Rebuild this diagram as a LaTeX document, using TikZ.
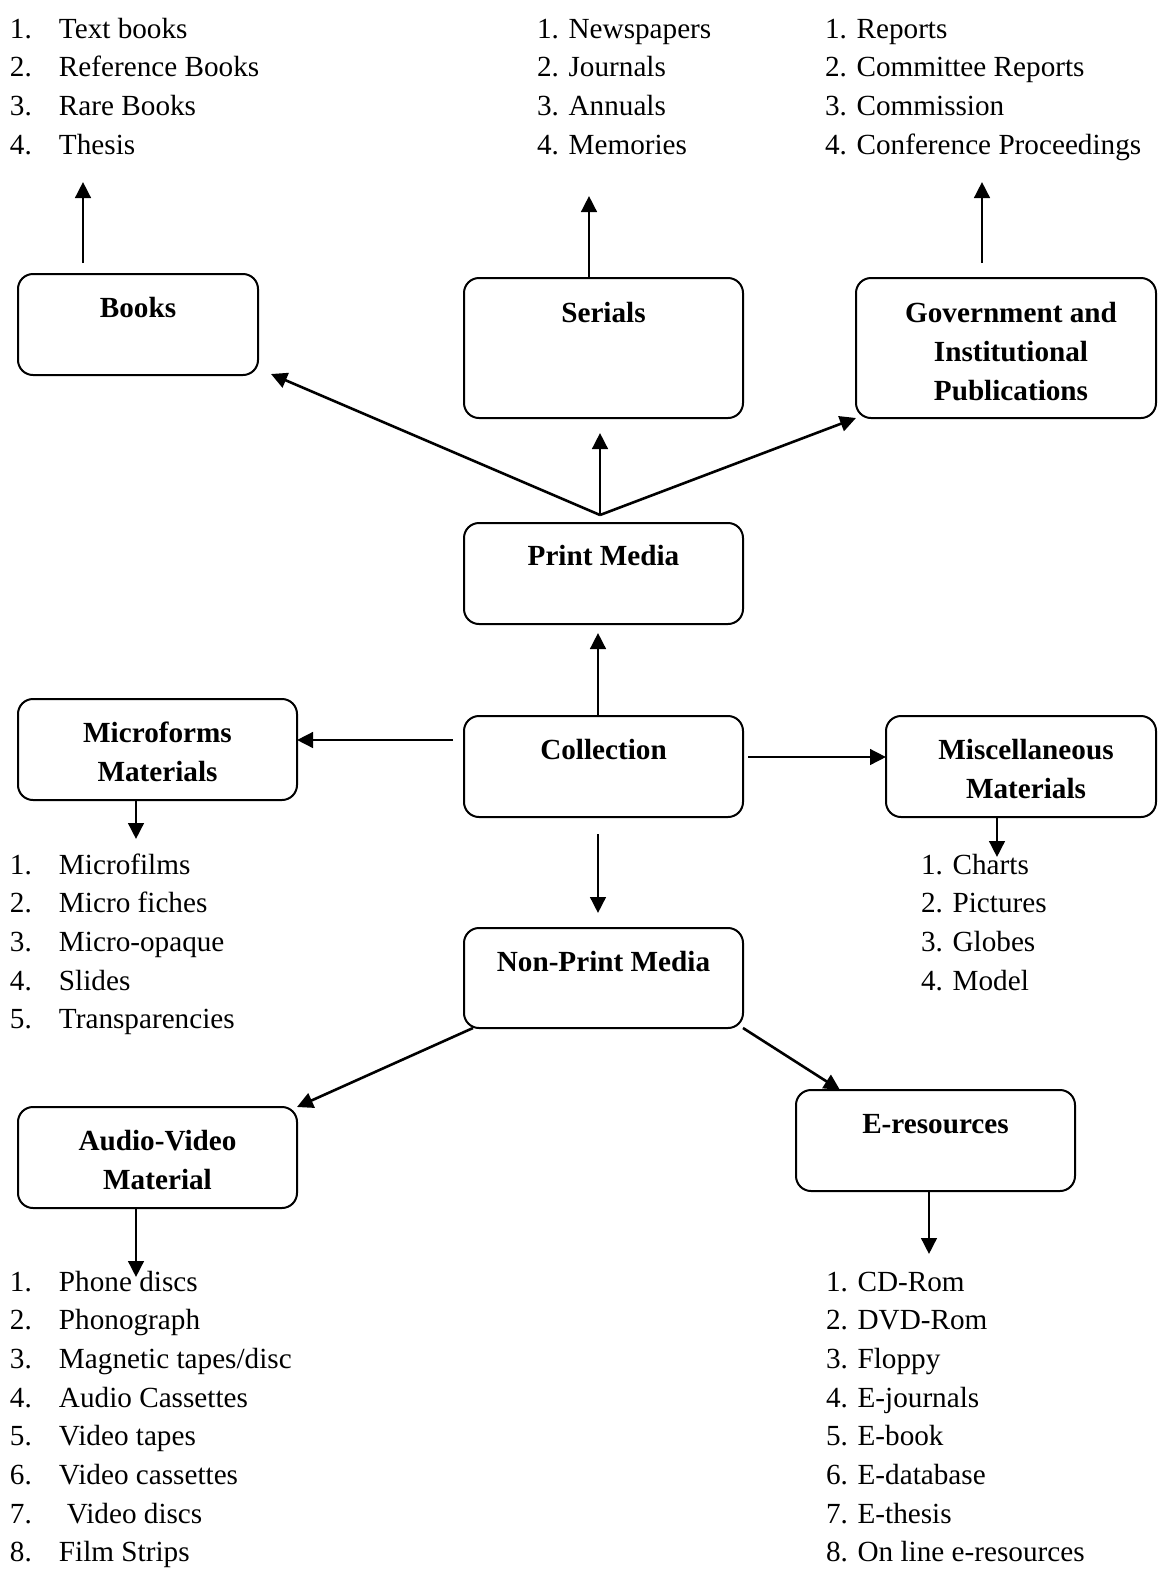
\documentclass[tikz,border=0pt]{standalone}
\usepackage{fontspec}
\setmainfont{Liberation Serif}
\usetikzlibrary{arrows.meta,calc}
\newcommand{\boxlbl}[3]{\raisebox{0pt}[#1pt][#2pt]{\begin{tabular}[t]{@{}c@{}}#3\end{tabular}}}
\newcommand{\boxlblr}[3]{\raisebox{0pt}[#1pt][#2pt]{\begin{tabular}[t]{@{\hspace{5pt}}c@{}}#3\end{tabular}}}
\newcommand{\listlbl}[1]{\begin{tabular}[t]{@{}l@{}}#1\end{tabular}}
\newcommand{\nlbl}[1]{\makebox[24.5pt][l]{#1}}
\begin{document}
\begin{tikzpicture}[x=0.5pt,y=-0.5pt,
  every node/.style={inner sep=0pt, outer sep=0pt},
  box/.style={draw, line width=1pt, rounded corners=7.5pt, anchor=north west,
    font=\fontsize{14.6pt}{19.5pt}\selectfont\bfseries},
  listtext/.style={anchor=base west, font=\fontsize{14.6pt}{19.35pt}\selectfont},
  arr/.style={line width=1.3pt, -{Triangle[length=8pt,width=7.8pt]}}]
\useasboundingbox (0,0) rectangle (1158,1570);

% boxes
\node[box, minimum width=120pt]   (books)   at (18,274)  {\boxlbl{21.5}{29}{Books}};
\node[box, minimum width=139.5pt] (serials) at (464,278) {\boxlbl{22}{48}{Serials}};
\node[box, minimum width=150pt]   (gov)     at (856,278) {\boxlblr{22}{48}{Government and\\Institutional\\Publications}};
\node[box, minimum width=139.5pt] (print)   at (464,523) {\boxlbl{21}{29.5}{Print Media}};
\node[box, minimum width=139.5pt] (coll)    at (464,716) {\boxlbl{21.5}{29}{Collection}};
\node[box, minimum width=139.5pt] (micro)   at (18,699)  {\boxlbl{21.5}{29}{Microforms\\Materials}};
\node[box, minimum width=135pt]   (misc)    at (886,716) {\boxlblr{21.5}{29}{Miscellaneous\\Materials}};
\node[box, minimum width=139.5pt] (np)      at (464,928) {\boxlbl{21.5}{28.5}{Non-Print Media}};
\node[box, minimum width=139.5pt] (av)      at (18,1107) {\boxlbl{21.5}{29}{Audio-Video\\Material}};
\node[box, minimum width=139.5pt] (eres)    at (796,1090) {\boxlbl{21.5}{29}{E-resources}};

% lists
\node[listtext] (bookslist) at (10,38) {\listlbl{\nlbl{1.}Text books\\\nlbl{2.}Reference Books\\\nlbl{3.}Rare Books\\\nlbl{4.}Thesis}};
\node[listtext] (serialslist) at (537,38) {\listlbl{1. Newspapers\\2. Journals\\3. Annuals\\4. Memories}};
\node[listtext] (govlist) at (825,38) {\listlbl{1. Reports\\2. Committee Reports\\3. Commission\\4. Conference Proceedings}};
\node[listtext] (microlist) at (10,874) {\listlbl{\nlbl{1.}Microfilms\\\nlbl{2.}Micro fiches\\\nlbl{3.}Micro-opaque\\\nlbl{4.}Slides\\\nlbl{5.}Transparencies}};
\node[listtext] (misclist) at (921,874) {\listlbl{1. Charts\\2. Pictures\\3. Globes\\4. Model}};
\node[listtext] (avlist) at (10,1291) {\listlbl{\nlbl{1.}Phone discs\\\nlbl{2.}Phonograph\\\nlbl{3.}Magnetic tapes/disc\\\nlbl{4.}Audio Cassettes\\\nlbl{5.}Video tapes\\\nlbl{6.}Video cassettes\\\nlbl{7.}\hspace{4pt}Video discs\\\nlbl{8.}Film Strips}};
\node[listtext] (ereslist) at (826,1291) {\listlbl{1. CD-Rom\\2. DVD-Rom\\3. Floppy\\4. E-journals\\5. E-book\\6. E-database\\7. E-thesis\\8. On line e-resources}};

% free ends
\coordinate (bu) at (83,182);
\coordinate (su) at (589,196);
\coordinate (gu) at (982,182);
\coordinate (fan) at (600,515);
\coordinate (fb) at (271,374);
\coordinate (fs) at (600,433);
\coordinate (cu) at (598,633);
\coordinate (cl) at (453,740);
\coordinate (cr) at (748,757);
\coordinate (cd) at (598,834);
\coordinate (cdt) at (598,913);
\coordinate (md) at (136,839);
\coordinate (xd) at (997,857);
\coordinate (et) at (840,1090);
\coordinate (ad) at (136,1277);
\coordinate (ed) at (929,1254);

% connectors
\draw[arr] ($(books.north -| bu)+(0,-11)$) -- (bu);
\draw[arr] (serials.north -| su) -- (su);
\draw[arr] ($(gov.north -| gu)+(0,-15)$) -- (gu);
\draw[arr] (fan) -- (fb);
\draw[arr] (fan) -- (fs);
\draw[arr] (fan) -- (gov.south west);
\draw[arr] (coll.north -| cu) -- (cu);
\draw[arr] (cl) -- (cl -| micro.east);
\draw[arr] (cr) -- (cr -| misc.west);
\draw[arr] (cd) -- (cdt);
\draw[arr] (micro.south -| md) -- (md);
\draw[arr] (misc.south -| xd) -- (xd);
\draw[arr] ($(np.south west)+(9,0)$) -- (av.north east);
\draw[arr] (np.south east) -- (et);
\draw[arr] (av.south -| ad) -- (ad);
\draw[arr] (eres.south -| ed) -- (ed);
\end{tikzpicture}
\end{document}
